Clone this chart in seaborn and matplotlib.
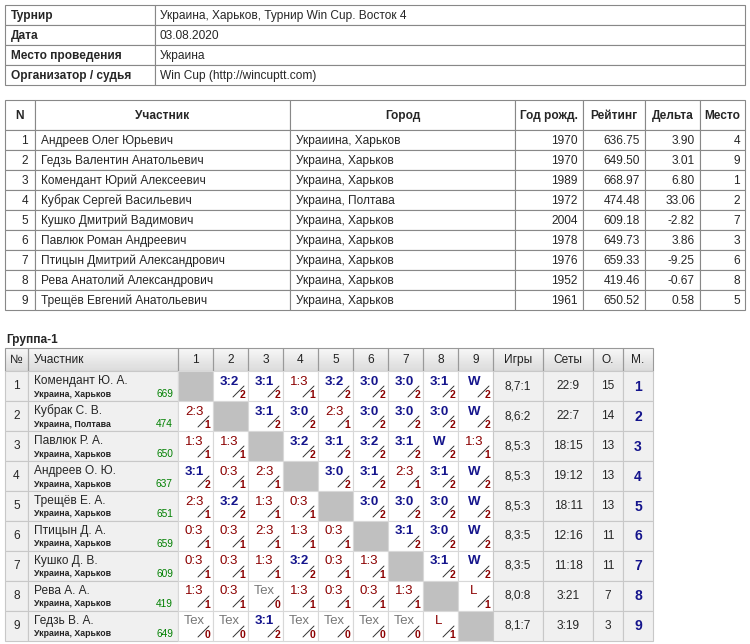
import matplotlib.pyplot as plt
import seaborn as sns
from matplotlib.patches import Rectangle
import numpy as np

sns.set_theme(style="white")
plt.rcParams['font.family'] = ['Liberation Sans', 'DejaVu Sans']

info_keys = ["Турнир", "Дата", "Место проведения", "Организатор / судья"]
info_vals = ["Украина, Харьков, Турнир Win Cup. Восток 4", "03.08.2020", "Украина",
             "Win Cup (http://wincuptt.com)"]

p_head = ["N", "Участник", "Город", "Год рожд.", "Рейтинг", "Дельта", "Место"]
p_names = ["Андреев Олег Юрьевич", "Гедзь Валентин Анатольевич", "Комендант Юрий Алексеевич",
           "Кубрак Сергей Васильевич", "Кушко Дмитрий Вадимович", "Павлюк Роман Андреевич",
           "Птицын Дмитрий Александрович", "Рева Анатолий Александрович", "Трещёв Евгений Анатольевич"]
p_city = ["Украиина, Харьков", "Украина, Харьков", "Украина, Харьков", "Украина, Полтава",
          "Украина, Харьков", "Украина, Харьков", "Украина, Харьков", "Украина, Харьков",
          "Украина, Харьков"]
p_year = [1970, 1970, 1989, 1972, 2004, 1978, 1976, 1952, 1961]
p_rating = ["636.75", "649.50", "668.97", "474.48", "609.18", "649.73", "659.33", "419.46", "650.52"]
p_delta = ["3.90", "3.01", "6.80", "33.06", "-2.82", "3.86", "-9.25", "-0.67", "0.58"]
p_place = [4, 9, 1, 2, 7, 3, 6, 8, 5]

g_names = ["Комендант Ю. А.", "Кубрак С. В.", "Павлюк Р. А.", "Андреев О. Ю.", "Трещёв Е. А.",
           "Птицын Д. А.", "Кушко Д. В.", "Рева А. А.", "Гедзь В. А."]
g_city = ["Украина, Харьков", "Украина, Полтава", "Украина, Харьков", "Украина, Харьков",
          "Украина, Харьков", "Украина, Харьков", "Украина, Харьков", "Украина, Харьков",
          "Украина, Харьков"]
g_rating = [669, 474, 650, 637, 651, 659, 609, 419, 649]
g_results = [
    ["-", "3:2", "3:1", "1:3", "3:2", "3:0", "3:0", "3:1", "W"],
    ["2:3", "-", "3:1", "3:0", "2:3", "3:0", "3:0", "3:0", "W"],
    ["1:3", "1:3", "-", "3:2", "3:1", "3:2", "3:1", "W", "1:3"],
    ["3:1", "0:3", "2:3", "-", "3:0", "3:1", "2:3", "3:1", "W"],
    ["2:3", "3:2", "1:3", "0:3", "-", "3:0", "3:0", "3:0", "W"],
    ["0:3", "0:3", "2:3", "1:3", "0:3", "-", "3:1", "3:0", "W"],
    ["0:3", "0:3", "1:3", "3:2", "0:3", "1:3", "-", "3:1", "W"],
    ["1:3", "0:3", "Тех", "1:3", "0:3", "0:3", "1:3", "-", "L"],
    ["Тех", "Тех", "3:1", "Тех", "Тех", "Тех", "Тех", "L", "-"],
]
g_games = ["8,7:1", "8,6:2", "8,5:3", "8,5:3", "8,5:3", "8,3:5", "8,3:5", "8,0:8", "8,1:7"]
g_sets = ["22:9", "22:7", "18:15", "19:12", "18:11", "12:16", "11:18", "3:21", "3:19"]
g_points = [15, 14, 13, 13, 13, 11, 11, 7, 3]
g_place = [1, 2, 3, 4, 5, 6, 7, 8, 9]

BLUE = "#14148c"
RED = "#8b0000"
GREEN = "#008000"
GRAY = "#777777"
FS = 8.6

fig = plt.figure(figsize=(7.5, 6.44), dpi=100)
ax = fig.add_axes([0, 0, 1, 1])
ax.set_xlim(0, 750)
ax.set_ylim(644, 0)
ax.axis("off")


def box(x0, y0, x1, y1, fc="white", ec="#888888", lw=0.8):
    ax.add_patch(Rectangle((x0, y0), x1 - x0, y1 - y0, facecolor=fc, edgecolor=ec, lw=lw))


# info table
for i, (k, v) in enumerate(zip(info_keys, info_vals)):
    y0 = 5 + i * 20
    box(5, y0, 155, y0 + 20)
    box(155, y0, 745, y0 + 20)
    ax.text(11, y0 + 10.5, k, fontsize=FS, weight="bold", va="center")
    ax.text(160, y0 + 10.5, v, fontsize=FS, va="center")

# participants table
pcols = [5, 35, 290, 515, 583, 645, 700, 745]
for j, h in enumerate(p_head):
    box(pcols[j], 100, pcols[j + 1], 130)
    ax.text((pcols[j] + pcols[j + 1]) / 2, 115.5, h, fontsize=FS, weight="bold",
            ha="center", va="center")
for i in range(len(p_names)):
    y0 = 130 + i * 20
    row = [str(i + 1), p_names[i], p_city[i], str(p_year[i]), p_rating[i], p_delta[i], str(p_place[i])]
    aligns = ["right", "left", "left", "right", "right", "right", "right"]
    for j, val in enumerate(row):
        box(pcols[j], y0, pcols[j + 1], y0 + 20)
        x = pcols[j] + 6 if aligns[j] == "left" else pcols[j + 1] - 5
        if j == 0:
            x = pcols[j + 1] - 7
        ax.text(x, y0 + 10.5, val, fontsize=FS, ha=aligns[j], va="center")

# group table
ax.text(6, 340, "Группа-1", fontsize=FS, weight="bold", va="center")
gcols = [5, 28, 178] + [178 + 35 * (k + 1) for k in range(9)] + [543, 593, 623, 653]
g_head = ["№", "Участник"] + [str(k + 1) for k in range(9)] + ["Игры", "Сеты", "О.", "М."]
grad = np.linspace(0.97, 0.86, 30).reshape(-1, 1)
ax.imshow(grad, cmap="gray", vmin=0, vmax=1, extent=(5, 653, 371, 348), aspect="auto", zorder=0)
for j, h in enumerate(g_head):
    ax.add_patch(Rectangle((gcols[j], 348), gcols[j + 1] - gcols[j], 23, fill=False,
                           edgecolor="#999999", lw=0.8))
    if j == 1:
        ax.text(gcols[j] + 6, 360, h, fontsize=FS, va="center", color="#222222")
    else:
        ax.text((gcols[j] + gcols[j + 1]) / 2, 360, h, fontsize=FS, ha="center",
                va="center", color="#222222")

RH = 30
for i in range(9):
    y0 = 371 + i * RH
    box(5, y0, 28, y0 + RH, fc="#f0f0f0", ec="#c8c8c8")
    ax.text(16.5, y0 + 15, str(i + 1), fontsize=FS, ha="center", va="center")
    box(28, y0, 178, y0 + RH, fc="#f0f0f0", ec="#c8c8c8")
    ax.text(34, y0 + 10, g_names[i], fontsize=FS, va="center")
    ax.text(34, y0 + 23, g_city[i], fontsize=6.3, weight="bold", va="center", color="#222222")
    ax.text(173, y0 + 23, str(g_rating[i]), fontsize=7.3, ha="right", va="center", color=GREEN)
    for k, res in enumerate(g_results[i]):
        x0 = gcols[2 + k]
        if res == "-":
            box(x0, y0, x0 + 35, y0 + RH, fc="#c0c0c0", ec="#d8d8d8")
            continue
        box(x0, y0, x0 + 35, y0 + RH, fc="white", ec="#d8d8d8")
        if res == "Тех":
            col, wt, pts = GRAY, "normal", 0
        elif res == "L":
            col, wt, pts = RED, "normal", 1
        elif res == "W" or res.startswith("3"):
            col, wt, pts = BLUE, "bold", 2
        else:
            col, wt, pts = RED, "normal", 1
        ax.text(x0 + 16, y0 + 10.5, res, fontsize=9.5, ha="center", va="center",
                color=col, weight=wt)
        ax.plot([x0 + 20, x0 + 31], [y0 + 26, y0 + 15], color="#333333", lw=0.7)
        ax.text(x0 + 32, y0 + 23.5, str(pts), fontsize=7.5, ha="right", va="center",
                color=RED, weight="bold")
    extra = [g_games[i], g_sets[i], str(g_points[i])]
    for m, val in enumerate(extra):
        c0, c1 = gcols[11 + m], gcols[12 + m]
        box(c0, y0, c1, y0 + RH, fc="#f0f0f0", ec="#c8c8c8")
        ax.text((c0 + c1) / 2, y0 + 15, val, fontsize=FS, ha="center", va="center")
    box(623, y0, 653, y0 + RH, fc="#f0f0f0", ec="#c8c8c8")
    ax.text(638, y0 + 15.5, str(g_place[i]), fontsize=10, weight="bold", ha="center",
            va="center", color=BLUE)

fig.savefig("out.png", dpi=100)
